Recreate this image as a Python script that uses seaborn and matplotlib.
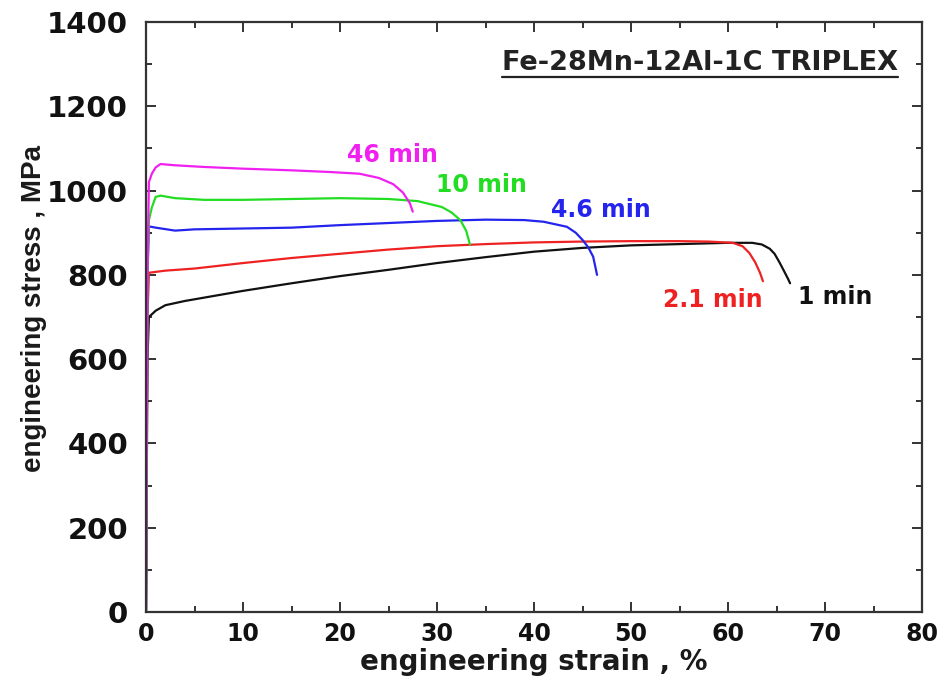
import numpy as np
import pandas as pd
import matplotlib
matplotlib.use("Agg")
import matplotlib.pyplot as plt
import matplotlib.transforms as mtransforms
from matplotlib.lines import Line2D
import seaborn as sns

# ---- data ----
labels = ["1 min", "2.1 min", "4.6 min", "10 min", "46 min"]
colors = ["#111111", "#ee2222", "#2424ee", "#22dd22", "#f020f0"]

strain_1 = [0, 0.15, 0.3, 1, 2, 4, 7, 10, 15, 20, 25, 30, 35, 40, 45, 50, 55, 60, 62.5,
            63.5, 64.3, 64.8, 65.3, 65.8, 66.2, 66.4]
stress_1 = [0, 600, 700, 715, 728, 738, 750, 762, 780, 797, 812, 828, 842, 855, 864, 870,
            873, 876, 876, 872, 862, 850, 830, 808, 790, 780]

strain_21 = [0, 0.15, 0.3, 2, 5, 10, 15, 20, 25, 30, 35, 40, 45, 50, 55, 58, 60.5,
             61.5, 62.2, 62.8, 63.3, 63.6]
stress_21 = [0, 700, 805, 810, 815, 828, 840, 850, 860, 868, 873, 877, 879, 880, 880,
             879, 876, 868, 852, 830, 805, 785]

strain_46 = [0, 0.15, 0.3, 1, 3, 5, 10, 15, 20, 25, 30, 35, 39, 41, 43.4, 44.3, 45,
             45.6, 46.1, 46.5]
stress_46 = [0, 800, 915, 912, 905, 908, 910, 912, 918, 923, 928, 931, 930, 926, 914,
             900, 883, 865, 843, 800]

strain_10 = [0, 0.15, 0.3, 0.6, 1.0, 1.5, 3, 6, 10, 15, 20, 25, 28, 30.5, 31.5, 32.4,
             33.0, 33.4]
stress_10 = [0, 800, 930, 960, 985, 988, 982, 978, 978, 980, 982, 980, 975, 961, 948,
             930, 905, 872]

strain_460 = [0, 0.15, 0.3, 0.6, 1.0, 1.5, 3, 6, 10, 15, 19, 22, 24, 25.5, 26.5, 27.2,
              27.5]
stress_460 = [0, 800, 1020, 1040, 1055, 1063, 1060, 1056, 1052, 1048, 1044, 1040, 1030,
              1015, 995, 970, 950]

strains = [strain_1, strain_21, strain_46, strain_10, strain_460]
stresses = [stress_1, stress_21, stress_46, stress_10, stress_460]

x_ticks = [0, 10, 20, 30, 40, 50, 60, 70, 80]
y_ticks = [0, 200, 400, 600, 800, 1000, 1200, 1400]

title_text = "Fe-28Mn-12Al-1C TRIPLEX"
x_label = "engineering strain , %"
y_label = "engineering stress , MPa"

# label anchor positions (data coords)
label_x = [71.1, 58.4, 46.9, 34.6, 25.4]
label_y = [747, 740, 954, 1013, 1084]

# ---- build frame ----
frames = []
for lab, sx, sy in zip(labels, strains, stresses):
    frames.append(pd.DataFrame({"strain": sx, "stress": sy, "time": lab,
                                "order": np.arange(len(sx))}))
df = pd.concat(frames, ignore_index=True)

sns.set_theme(style="ticks")
plt.rcParams["font.family"] = ["DejaVu Sans"]

fig = plt.figure(figsize=(9.39, 6.91), dpi=100)
ax = fig.add_axes([146 / 939, 1 - 612 / 691, 776 / 939, 590 / 691])

sns.lineplot(data=df, x="strain", y="stress", hue="time", hue_order=labels,
             palette=colors, sort=False, estimator=None, legend=False,
             linewidth=1.6, ax=ax)

ax.set_xlim(0, 80)
ax.set_ylim(0, 1400)
ax.set_xticks(x_ticks)
ax.set_yticks(y_ticks)
ax.set_xticks(np.arange(5, 80, 10), minor=True)
ax.set_yticks(np.arange(100, 1400, 200), minor=True)

for s in ax.spines.values():
    s.set_visible(True)
    s.set_color("#333333")
    s.set_linewidth(1.6)

ax.tick_params(which="both", direction="in", top=True, right=True,
               color="#333333", width=1.4)
ax.tick_params(which="major", length=7)
ax.tick_params(which="minor", length=4)
ax.tick_params(axis="y", which="major", pad=13)
ax.tick_params(axis="x", which="major", pad=7)

for t in ax.get_yticklabels():
    t.set_fontfamily("DejaVu Sans")
    t.set_fontweight("bold")
    t.set_fontsize(21)
    t.set_color("#111111")
for t in ax.get_xticklabels():
    t.set_fontfamily("DejaVu Sans")
    t.set_fontweight("bold")
    t.set_fontsize(17)
    t.set_color("#111111")

ax.set_xlabel(x_label, fontsize=20, fontweight="bold", color="#1a1a1a", labelpad=2)
ax.set_ylabel(y_label, fontsize=20, fontweight="bold", color="#1a1a1a",
              family=["Liberation Sans", "DejaVu Sans"])
ax.yaxis.set_label_coords(-0.128, 0.515)

for lab, c, lx, ly in zip(labels, colors, label_x, label_y):
    ax.text(lx, ly, lab, color=c, fontsize=17, fontweight="bold",
            ha="center", va="center")

title = ax.text(0.969, 0.930, title_text, transform=ax.transAxes, ha="right",
                va="center", fontsize=19.5, fontweight="bold", color="#222222")

fig.canvas.draw()
bb = title.get_window_extent(renderer=fig.canvas.get_renderer())
fig.add_artist(Line2D([bb.x0, bb.x1], [bb.y0 - 1, bb.y0 - 1],
                      transform=mtransforms.IdentityTransform(),
                      color="#222222", linewidth=1.6))

fig.savefig("out.png", dpi=100)
